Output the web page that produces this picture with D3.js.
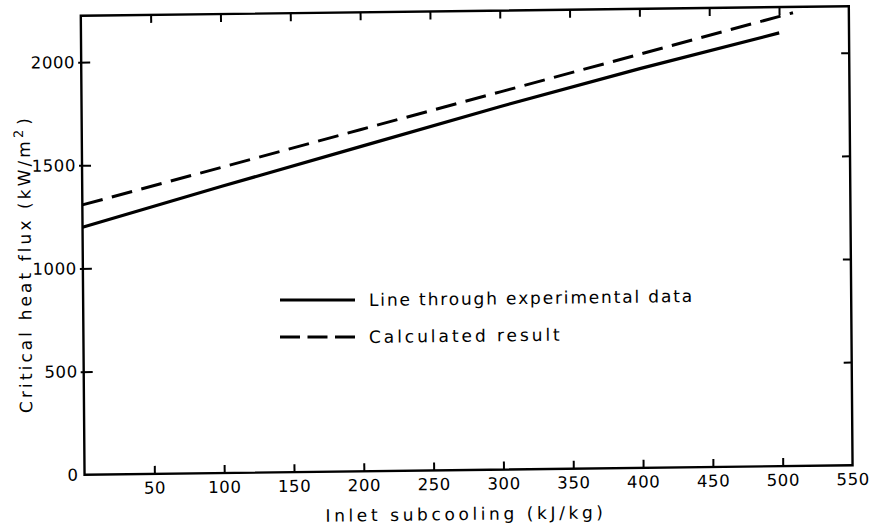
<!DOCTYPE html>
<html><head><meta charset="utf-8">
<script src="https://cdn.jsdelivr.net/npm/d3@7"></script>
<style>body{margin:0;background:#fff} svg{display:block}</style>
</head><body>
<svg id="chart" width="874" height="526"></svg>
<script>
// ---- data ----
const xTickValues = [50,100,150,200,250,300,350,400,450,500,550];
const yTickValues = [0,500,1000,1500,2000];
const expX = [0,100,200,300,400,500];
const expY = [1200,1390,1575,1760,1935,2100];
const calcX = [0,100,200,300,400,510];
const calcY = [1308,1482,1657,1831,2005,2197];
const legendLabels = ["Line through experimental data","Calculated result"];
const xTitle = "Inlet subcooling (kJ/kg)";
const yTitleMain = "Critical heat flux (kW/m";
const yTitleSup = "2";
const yTitleEnd = ")";

// ---- layout ----
const W = 768, H = 459;
const FONT = "DejaVu Sans";
const svg = d3.select("#chart");
// scanned page is slightly rotated/sheared
const mat = [1, -0.01237, 0.00817, 1, 80.8, 15.75];
const M = new DOMMatrix(mat), Minv = M.inverse();
const toLocal = (px, py) => { const p = new DOMPoint(px, py).matrixTransform(Minv); return [p.x, p.y]; };

const g = svg.append("g").attr("transform", `matrix(${mat.join(",")})`);

const x = d3.scaleLinear().domain([0, 550]).range([0, W]);
const y = d3.scaleLinear().domain([0, 2225]).range([H, 0]);

// frame
g.append("rect").attr("x", 0).attr("y", 0).attr("width", W).attr("height", H)
  .attr("fill", "none").attr("stroke", "#000").attr("stroke-width", 2.4);

function styleAxis(sel) {
  sel.select(".domain").remove();
  sel.selectAll(".tick line").attr("stroke", "#000").attr("stroke-width", 2);
  sel.selectAll(".tick text").attr("fill", "#000")
    .style("font-family", FONT).style("font-size", "16.5px").style("letter-spacing", "0.6px");
}

// bottom axis
const gx = g.append("g").attr("transform", `translate(0,${H})`)
  .call(d3.axisBottom(x).tickValues(xTickValues).tickSizeInner(-8).tickSizeOuter(0).tickPadding(8).tickFormat(d3.format("d")));
styleAxis(gx);
gx.selectAll(".tick").filter(d => d === 550).select("line").remove();

// top axis (ticks only)
const gt = g.append("g")
  .call(d3.axisTop(x).tickValues(xTickValues.filter(v => v < 550)).tickSizeInner(-8).tickSizeOuter(0).tickFormat(""));
styleAxis(gt);

// left axis
const gy = g.append("g")
  .call(d3.axisLeft(y).tickValues(yTickValues).tickSizeInner(-9).tickSizeOuter(0).tickPadding(6).tickFormat(d3.format("d")));
styleAxis(gy);
gy.selectAll(".tick line").attr("x1", -3);
gy.selectAll(".tick").filter(d => d === 0).select("line").remove();

// right axis (ticks only)
const gr = g.append("g").attr("transform", `translate(${W},0)`)
  .call(d3.axisRight(y).tickValues(yTickValues.filter(v => v > 0)).tickSizeInner(-8).tickSizeOuter(0).tickFormat(""));
styleAxis(gr);

// lines
const line = d3.line().x(d => x(d[0])).y(d => y(d[1]));
g.append("path").datum(d3.zip(expX, expY)).attr("d", line)
  .attr("fill", "none").attr("stroke", "#000").attr("stroke-width", 3.2).attr("stroke-linecap", "butt");
g.append("path").datum(d3.zip(calcX, calcY)).attr("d", line)
  .attr("fill", "none").attr("stroke", "#000").attr("stroke-width", 3).attr("stroke-dasharray", "21,9.5");

// helper to fit a text to a target width via letter-spacing
function fit(sel, target) {
  const node = sel.node();
  const w = node.getBBox().width;
  const n = node.textContent.length;
  sel.style("letter-spacing", ((target - w) / n) + "px");
}

// legend
const legRows = [
  {label: legendLabels[0], sy: 300, dash: null, target: 325},
  {label: legendLabels[1], sy: 337, dash: "20,7.5", target: 194}
];
legRows.forEach(r => {
  const [lx1, ly1] = toLocal(280, r.sy);
  const [lx2, ly2] = toLocal(355, r.sy);
  g.append("line").attr("x1", lx1).attr("y1", ly1).attr("x2", lx2).attr("y2", ly2)
    .attr("stroke", "#000").attr("stroke-width", 3).attr("stroke-dasharray", r.dash);
  const [tx, ty] = toLocal(369, r.sy);
  const t = g.append("text").attr("x", tx).attr("y", ty).attr("dy", "0.35em")
    .style("font-family", FONT).style("font-size", "17px").attr("fill", "#000").text(r.label);
  fit(t, r.target);
});

// x title
{
  const [tx, ty] = toLocal(466, 514);
  const t = g.append("text").attr("x", tx).attr("y", ty).attr("dy", "0.35em")
    .attr("text-anchor", "middle").style("font-family", FONT).style("font-size", "17px")
    .attr("fill", "#000").text(xTitle);
  fit(t, 281);
}
// y title
{
  const [tx, ty] = toLocal(25, 264);
  const t = g.append("text").attr("transform", `translate(${tx},${ty}) rotate(-90)`)
    .attr("dy", "0.35em").attr("text-anchor", "middle")
    .style("font-family", FONT).style("font-size", "17px").attr("fill", "#000");
  t.append("tspan").text(yTitleMain);
  t.append("tspan").attr("dy", "-7").style("font-size", "13px").text(yTitleSup);
  t.append("tspan").attr("dy", "7").attr("dx", "2").text(yTitleEnd);
  fit(t, 298);
}
</script>
</body></html>
